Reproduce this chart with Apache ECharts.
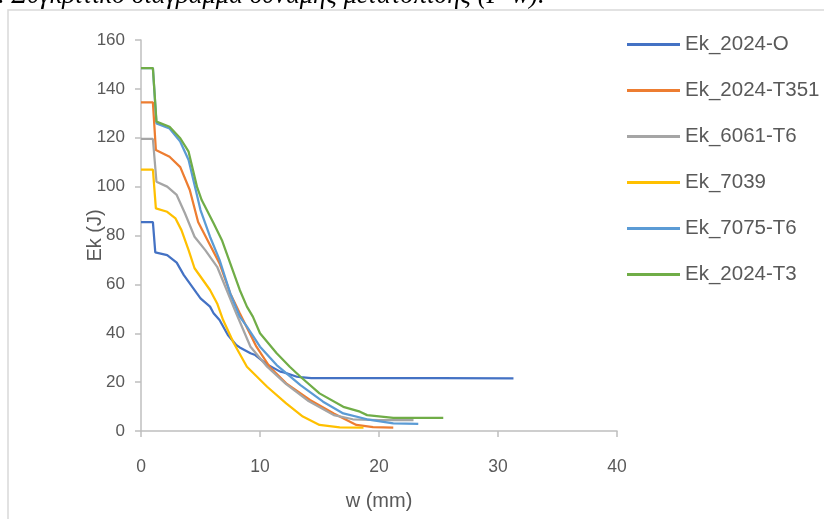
<!DOCTYPE html>
<html>
<head>
<meta charset="utf-8">
<script src="https://cdn.jsdelivr.net/npm/echarts@6/dist/echarts.min.js"></script>
<style>html,body{margin:0;padding:0;background:#fff;}#c{width:824px;height:519px;}</style>
</head>
<body>
<div id="c"></div>
<script>
// Data
const names = ['Ek_2024-O', 'Ek_2024-T351', 'Ek_6061-T6', 'Ek_7039', 'Ek_7075-T6', 'Ek_2024-T3'];
const colors = ['#4472C4', '#ED7D31', '#A5A5A5', '#FFC000', '#5B9BD5', '#70AD47'];

const w_2024O = [0, 1.0, 1.2, 2.2, 3.0, 3.6, 4.7, 5.0, 5.8, 6.1, 6.6, 7.3, 8.0, 8.3, 9.2, 9.6, 10.6, 11.7, 12.0, 13.1, 13.4, 14.3, 15, 20, 25, 31.3];
const e_2024O = [85.5, 85.5, 73.1, 72, 68.9, 63.8, 56.3, 54.3, 50.9, 48.2, 45.4, 39.3, 35.2, 34.2, 31.8, 31.1, 27.2, 24.3, 24.0, 22.2, 22.0, 21.6, 21.6, 21.6, 21.6, 21.5];

const w_T351 = [0, 1.0, 1.25, 2.4, 3.3, 4.1, 4.8, 5.8, 6.6, 7.5, 8.3, 9.7, 10.8, 12.2, 14.2, 16.2, 18.1, 19.5, 21.2];
const e_T351 = [134.5, 134.5, 115, 112.2, 108, 98.6, 85.5, 76.1, 68.6, 56.3, 48.2, 34.5, 26.3, 19.5, 12.7, 7.2, 2.5, 1.6, 1.4];

const w_6061 = [0, 1.0, 1.3, 2.2, 3.0, 3.7, 4.5, 5.4, 6.4, 7.2, 8.0, 9.2, 10.6, 12.2, 14.0, 16.2, 17.8, 20, 22.9];
const e_6061 = [119.5, 119.5, 102, 100, 96.6, 89, 79.5, 74, 67.2, 57.7, 48.2, 34.5, 26.3, 19.2, 12.5, 6.5, 4.8, 4.5, 4.4];

const w_7039 = [0, 1.0, 1.25, 2.2, 2.9, 3.4, 4.0, 4.5, 5.1, 5.8, 6.4, 6.9, 7.8, 8.9, 10.6, 12.2, 13.6, 15.0, 16.7, 18.7];
const e_7039 = [107, 107, 91.1, 89.7, 87, 82.2, 74, 66.6, 62.5, 57.7, 52.2, 45.4, 35.9, 26.3, 18.1, 11.3, 5.9, 2.5, 1.5, 1.4];

const w_7075 = [0, 1.0, 1.3, 2.4, 3.3, 4.0, 4.7, 5.0, 5.8, 6.6, 7.5, 8.3, 8.9, 10.0, 11.4, 13.4, 15.3, 17.0, 19.0, 21.2, 23.3];
const e_7075 = [148.5, 148.5, 125.9, 123.8, 118.4, 110.9, 96.6, 90.4, 79.5, 70, 56.3, 46.8, 42.7, 34.5, 27, 18.8, 12, 7.2, 4.8, 3.1, 2.9];

const w_T3 = [0, 1.0, 1.3, 2.4, 3.3, 4.0, 4.7, 5.1, 6.1, 6.8, 7.5, 8.3, 8.9, 9.4, 10.0, 11.4, 12.5, 13.4, 15.0, 17.0, 18.4, 19.0, 21.2, 25.4];
const e_T3 = [148.5, 148.5, 126.6, 124.5, 119.8, 114.3, 100, 94.5, 85, 78.1, 68.6, 57.7, 50.9, 46.8, 40, 31.8, 26.3, 22.2, 15.4, 9.9, 7.9, 6.5, 5.4, 5.4];

const xTicks = [0, 10, 20, 30, 40];
const yTicks = [0, 20, 40, 60, 80, 100, 120, 140, 160];
const caption = '. Συγκριτικό διάγραμμα δύναμης μετατόπισης (F-w).';

const wSets = [w_2024O, w_T351, w_6061, w_7039, w_7075, w_T3];
const eSets = [e_2024O, e_T351, e_6061, e_7039, e_7075, e_T3];

const FONT = '"Liberation Sans", Arial, sans-serif';
const chart = echarts.init(document.getElementById('c'), null, {renderer: 'canvas'});
const series = names.map((n, i) => ({
  name: n,
  type: 'line',
  data: wSets[i].map((w, j) => [w, eSets[i][j]]),
  showSymbol: false,
  symbol: 'none',
  smooth: false,
  lineStyle: {color: colors[i], width: 2.25},
  itemStyle: {color: colors[i]},
  z: 2 + i
}));

chart.setOption({
  animation: false,
  backgroundColor: '#fff',
  color: colors,
  graphic: [
    {type: 'polyline', shape: {points: [[8, 519], [8, 10], [824, 10]]}, style: {stroke: '#d9d9d9', lineWidth: 1.5, fill: null}, silent: true},
    {type: 'text', left: -2, top: -17, style: {text: caption, font: 'italic 26.5px "Liberation Serif", serif', fill: '#000'}, silent: true}
  ],
  grid: {left: 141, right: 207, top: 40, bottom: 88},
  legend: {
    orient: 'vertical', left: 622, top: 29,
    itemWidth: 53, itemHeight: 3, itemGap: 25, icon: 'rect',
    textStyle: {fontFamily: FONT, fontSize: 20.5, color: '#595959'},
    data: names
  },
  xAxis: {
    type: 'value', min: xTicks[0], max: xTicks[xTicks.length - 1], interval: 10,
    name: 'w (mm)', nameLocation: 'middle', nameGap: 60, nameMoveOverlap: false,
    nameTextStyle: {fontFamily: FONT, fontSize: 20, color: '#595959'},
    axisLine: {show: true, lineStyle: {color: '#bfbfbf', width: 1.5}},
    axisTick: {show: true, length: 6, lineStyle: {color: '#bfbfbf', width: 1.5}},
    axisLabel: {fontFamily: FONT, fontSize: 17.5, color: '#595959', margin: 27},
    splitLine: {show: false}
  },
  yAxis: {
    type: 'value', min: yTicks[0], max: yTicks[yTicks.length - 1], interval: 20,
    name: 'Ek (J)', nameLocation: 'middle', nameGap: 36, nameMoveOverlap: false,
    nameTextStyle: {fontFamily: FONT, fontSize: 20, color: '#595959'},
    axisLine: {show: true, lineStyle: {color: '#bfbfbf', width: 1.5}},
    axisTick: {show: true, length: 6, lineStyle: {color: '#bfbfbf', width: 1.5}},
    axisLabel: {fontFamily: FONT, fontSize: 17, color: '#595959', margin: 16},
    splitLine: {show: false}
  },
  series: series
});
</script>
</body>
</html>
